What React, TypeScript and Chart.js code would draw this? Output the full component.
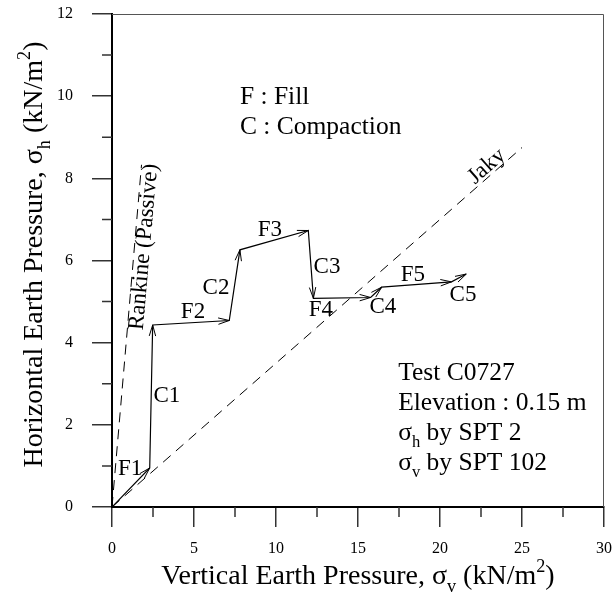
import React, { useEffect, useRef } from "react";
import { Chart, registerables } from "chart.js";
Chart.register(...registerables);

const FONT = '"Liberation Serif", "Times New Roman", serif';

// Stress path: vertical (σv) and horizontal (σh) earth pressure, kN/m²
const pathSigmaV = [0, 2.3, 2.48, 7.15, 7.8, 11.97, 12.28, 15.77, 16.44, 20.7, 21.6];
const pathSigmaH = [0, 0.95, 4.43, 4.54, 6.26, 6.73, 5.08, 5.1, 5.35, 5.48, 5.67];

// Stage labels and where they sit (data units)
const stageNames = ["F1", "C1", "F2", "C2", "F3", "C3", "F4", "C4", "F5", "C5"];
const stageLabelV = [1.1, 3.35, 4.94, 6.34, 9.63, 13.11, 12.74, 16.52, 18.35, 21.4];
const stageLabelH = [0.93, 2.7, 4.75, 5.33, 6.74, 5.84, 4.8, 4.87, 5.65, 5.16];

// Reference lines
const jakyV = [0, 25];
const jakyH = [0, 8.75];
const rankineV = [0, 1.8];
const rankineH = [0, 8.33];
const jakyLabelAt = [22.85, 8.29];
const rankineLabelAt = [1.95, 6.33];

// Axes
const xMin = 0, xMax = 30, xStep = 5;
const yMin = 0, yMax = 12, yStep = 2;
const xMinorTicks = [2.5, 7.5, 12.5, 17.5, 22.5, 27.5];
const yMinorTicks = [1, 3, 5, 7, 9, 11];

type Seg = { t: string; sub?: boolean; sup?: boolean };
const xTitle: Seg[] = [{ t: "Vertical Earth Pressure, σ" }, { t: "v", sub: true }, { t: " (kN/m" }, { t: "2", sup: true }, { t: ")" }];
const yTitle: Seg[] = [{ t: "Horizontal Earth Pressure, σ" }, { t: "h", sub: true }, { t: " (kN/m" }, { t: "2", sup: true }, { t: ")" }];

const keyLines = ["F : Fill", "C : Compaction"];
const keyAt = [[7.8, 9.81], [7.8, 9.08]];
const infoLines: Seg[][] = [
  [{ t: "Test C0727" }],
  [{ t: "Elevation : 0.15 m" }],
  [{ t: "σ" }, { t: "h", sub: true }, { t: " by SPT 2" }],
  [{ t: "σ" }, { t: "v", sub: true }, { t: " by SPT 102" }],
];
const infoAt = [[17.45, 3.09], [17.45, 2.36], [17.45, 1.63], [17.45, 0.9]];

function richWidth(ctx: CanvasRenderingContext2D, segs: Seg[], size: number) {
  let w = 0;
  for (const s of segs) {
    const fs = s.sub || s.sup ? size * 0.65 : size;
    ctx.font = `${fs}px ${FONT}`;
    w += ctx.measureText(s.t).width;
  }
  return w;
}

function drawRich(ctx: CanvasRenderingContext2D, segs: Seg[], x: number, y: number, size: number) {
  let cx = x;
  ctx.textBaseline = "alphabetic";
  ctx.textAlign = "left";
  for (const s of segs) {
    const fs = s.sub || s.sup ? size * 0.65 : size;
    ctx.font = `${fs}px ${FONT}`;
    const dy = s.sub ? size * 0.28 : s.sup ? -size * 0.42 : 0;
    ctx.fillText(s.t, cx, y + dy);
    cx += ctx.measureText(s.t).width;
  }
}

const overlay = {
  id: "overlay",
  afterDatasetsDraw(chart: any) {
    const { ctx, chartArea: a, scales } = chart;
    const xs = scales.x, ys = scales.y;
    ctx.save();
    ctx.fillStyle = "#000";

    // top and right frame
    ctx.strokeStyle = "#555";
    ctx.lineWidth = 1;
    ctx.beginPath();
    ctx.moveTo(a.left, Math.round(a.top) + 0.5);
    ctx.lineTo(Math.round(a.right) - 0.5, Math.round(a.top) + 0.5);
    ctx.lineTo(Math.round(a.right) - 0.5, a.bottom);
    ctx.stroke();

    // minor ticks
    ctx.strokeStyle = "#333";
    ctx.lineWidth = 1.5;
    ctx.beginPath();
    for (const v of xMinorTicks) {
      const px = xs.getPixelForValue(v);
      ctx.moveTo(px, a.bottom);
      ctx.lineTo(px, a.bottom + 10);
    }
    for (const v of yMinorTicks) {
      const py = ys.getPixelForValue(v);
      ctx.moveTo(a.left, py);
      ctx.lineTo(a.left - 10, py);
    }
    ctx.stroke();

    // arrowheads on the stress path
    ctx.strokeStyle = "#000";
    ctx.lineWidth = 1;
    for (let i = 1; i < pathSigmaV.length; i++) {
      const x0 = xs.getPixelForValue(pathSigmaV[i - 1]);
      const y0 = ys.getPixelForValue(pathSigmaH[i - 1]);
      const x1 = xs.getPixelForValue(pathSigmaV[i]);
      const y1 = ys.getPixelForValue(pathSigmaH[i]);
      const ang = Math.atan2(y1 - y0, x1 - x0);
      const L = 11, W = 3.2;
      const bx = x1 - L * Math.cos(ang), by = y1 - L * Math.sin(ang);
      const nx = -Math.sin(ang) * W, ny = Math.cos(ang) * W;
      ctx.beginPath();
      ctx.moveTo(bx + nx, by + ny);
      ctx.lineTo(x1, y1);
      ctx.lineTo(bx - nx, by - ny);
      ctx.stroke();
    }

    // stage labels
    ctx.font = `23px ${FONT}`;
    ctx.textAlign = "center";
    ctx.textBaseline = "middle";
    stageNames.forEach((n, i) => {
      ctx.fillText(n, xs.getPixelForValue(stageLabelV[i]), ys.getPixelForValue(stageLabelH[i]));
    });

    // rotated line labels
    const rotLabel = (text: string, at: number[], lv: number[], lh: number[]) => {
      const dx = xs.getPixelForValue(lv[1]) - xs.getPixelForValue(lv[0]);
      const dy = ys.getPixelForValue(lh[1]) - ys.getPixelForValue(lh[0]);
      ctx.save();
      ctx.translate(xs.getPixelForValue(at[0]), ys.getPixelForValue(at[1]));
      ctx.rotate(Math.atan2(dy, dx));
      ctx.font = `23px ${FONT}`;
      ctx.textAlign = "center";
      ctx.textBaseline = "middle";
      ctx.fillText(text, 0, 0);
      ctx.restore();
    };
    rotLabel("Jaky", jakyLabelAt, jakyV, jakyH);
    rotLabel("Rankine (Passive)", rankineLabelAt, rankineV, rankineH);

    // key
    const noteSize = 25.5;
    keyLines.forEach((t, i) => {
      drawRich(ctx, [{ t }], xs.getPixelForValue(keyAt[i][0]), ys.getPixelForValue(keyAt[i][1]), noteSize);
    });
    // info block
    infoLines.forEach((segs, i) => {
      drawRich(ctx, segs, xs.getPixelForValue(infoAt[i][0]), ys.getPixelForValue(infoAt[i][1]), noteSize);
    });

    // axis titles
    const tSize = 28;
    const xw = richWidth(ctx, xTitle, tSize);
    drawRich(ctx, xTitle, (a.left + a.right) / 2 - xw / 2, 584, tSize);
    const yw = richWidth(ctx, yTitle, tSize);
    ctx.save();
    ctx.translate(42, (a.top + a.bottom) / 2 - 6);
    ctx.rotate(-Math.PI / 2);
    drawRich(ctx, yTitle, -yw / 2, 0, tSize);
    ctx.restore();

    ctx.restore();
  },
};

export default function App() {
  const ref = useRef<HTMLCanvasElement | null>(null);
  useEffect(() => {
    if (!ref.current) return;
    const pts = (vs: number[], hs: number[]) => vs.map((v, i) => ({ x: v, y: hs[i] }));
    const chart = new Chart(ref.current, {
      type: "scatter",
      data: {
        datasets: [
          {
            data: pts(pathSigmaV, pathSigmaH),
            showLine: true,
            borderColor: "#000",
            borderWidth: 1.2,
            pointRadius: 0,
          },
          {
            data: pts(jakyV, jakyH),
            showLine: true,
            borderColor: "#000",
            borderWidth: 1,
            borderDash: [10, 7],
            pointRadius: 0,
          },
          {
            data: pts(rankineV, rankineH),
            showLine: true,
            borderColor: "#000",
            borderWidth: 1,
            borderDash: [10, 7],
            pointRadius: 0,
          },
        ],
      },
      options: {
        responsive: false,
        animation: false,
        layout: { padding: { left: 0, top: 14, right: 12, bottom: 0 } },
        plugins: { legend: { display: false }, tooltip: { enabled: false } },
        scales: {
          x: {
            type: "linear",
            min: xMin,
            max: xMax,
            afterFit: (s: any) => { s.height = 86; s.paddingLeft = 0; s.paddingRight = 0; },
            ticks: { stepSize: xStep, color: "#000", font: { family: FONT, size: 16 }, padding: 12, maxRotation: 0 },
            grid: { drawOnChartArea: false, drawTicks: true, tickLength: 20, color: "#333", lineWidth: 1.5 },
            border: { display: true, color: "#000", width: 2 },
          },
          y: {
            type: "linear",
            min: yMin,
            max: yMax,
            afterFit: (s: any) => { s.width = 112; s.paddingTop = 0; s.paddingBottom = 0; },
            ticks: { stepSize: yStep, color: "#000", font: { family: FONT, size: 16 }, padding: 19 },
            grid: { drawOnChartArea: false, drawTicks: true, tickLength: 20, color: "#333", lineWidth: 1.5 },
            border: { display: true, color: "#000", width: 2 },
          },
        },
      },
      plugins: [overlay],
    });
    return () => chart.destroy();
  }, []);
  return (
    <div style={{ position: "absolute", left: 0, top: 0, width: 616, height: 593, background: "#fff" }}>
      <canvas ref={ref} width={616} height={593} />
    </div>
  );
}
